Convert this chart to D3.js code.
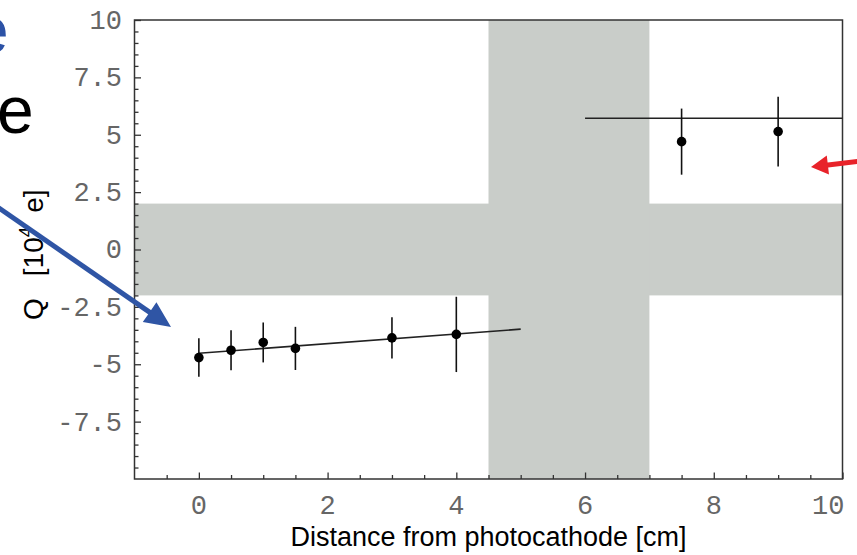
<!DOCTYPE html>
<html>
<head>
<meta charset="utf-8">
<script src="https://cdn.jsdelivr.net/npm/d3@7"></script>
<style>
  html, body { margin: 0; padding: 0; background: #fff; }
  svg { display: block; }
</style>
</head>
<body>
<svg id="chart" width="857" height="555"></svg>
<script>
// Charge measured near the photocathode (left group) and far side (right group)
const nearX   = [0, 0.5, 1, 1.5, 3, 4];
const nearQ   = [-4.71, -4.39, -4.05, -4.31, -3.85, -3.70];
const nearErr = [0.84, 0.87, 0.87, 0.94, 0.90, 1.64];

const farX    = [7.5, 9];
const farQ    = [4.70, 5.14];
const farErr  = [1.44, 1.52];

// Linear fit of the near group: intercept, slope, and its x extent
const nearFit = { intercept: -4.52, slope: 0.21, from: 0, to: 5 };
// Constant level of the far group and its x extent
const farFit  = { level: 5.72, from: 6, to: 10 };

// Excluded regions (shaded)
const bandQ = [-2, 2];      // horizontal band in Q
const bandX = [4.5, 7];     // vertical band in distance

const xDomain = [-1, 10];
const yDomain = [-10, 10];
const xMajor = [0, 2, 4, 6, 8, 10];
const yMajor = [-7.5, -5, -2.5, 0, 2.5, 5, 7.5, 10];
const yLabels = ["-7.5", "-5", "-2.5", "0", "2.5", "5", "7.5", "10"];

const svg = d3.select("#chart");
const plotL = 134.5, plotR = 842.5, plotT = 20, plotB = 479;

const x = d3.scaleLinear().domain(xDomain).range([plotL, plotR]);
const y = d3.scaleLinear().domain(yDomain).range([plotB, plotT]);

const shade = "#c9cdc9";
// horizontal band
svg.append("rect")
  .attr("x", x(xDomain[0])).attr("width", x(xDomain[1]) - x(xDomain[0]))
  .attr("y", y(bandQ[1])).attr("height", y(bandQ[0]) - y(bandQ[1]))
  .attr("fill", shade);
// vertical band
svg.append("rect")
  .attr("x", x(bandX[0])).attr("width", x(bandX[1]) - x(bandX[0]))
  .attr("y", y(yDomain[1])).attr("height", y(yDomain[0]) - y(yDomain[1]))
  .attr("fill", shade);

// Minor ticks every 0.5, major ticks longer
const axisColor = "#333";
const xMinor = d3.range(-0.5, 10.001, 0.5);
const yMinor = d3.range(-9.5, 10.001, 0.5);

const xAxis = d3.axisBottom(x).tickValues(xMinor).tickSize(-4).tickFormat("");
const yAxis = d3.axisLeft(y).tickValues(yMinor).tickSize(-4).tickFormat("");

const gx = svg.append("g").attr("transform", `translate(0,${plotB})`).call(xAxis);
const gy = svg.append("g").attr("transform", `translate(${plotL},0)`).call(yAxis);
[gx, gy].forEach(g => {
  g.select(".domain").remove();
  g.selectAll(".tick line").attr("stroke", axisColor).attr("stroke-width", 1.3);
});
gx.selectAll(".tick line").filter(d => xMajor.includes(d)).attr("y2", -6.5);
gy.selectAll(".tick line").filter(d => yMajor.includes(d)).attr("x2", 6.5);

// Frame
svg.append("rect")
  .attr("x", plotL).attr("y", plotT)
  .attr("width", plotR - plotL).attr("height", plotB - plotT)
  .attr("fill", "none").attr("stroke", axisColor).attr("stroke-width", 1.5);

// Tick labels
const tickFont = "'Liberation Mono', 'Courier New', monospace";
svg.append("g").selectAll("text").data(xMajor).join("text")
  .attr("x", d => d === 10 ? x(d) + 2 : x(d))
  .attr("y", 514)
  .attr("text-anchor", d => d === 10 ? "end" : "middle")
  .attr("font-family", tickFont).attr("font-size", 27)
  .attr("fill", "#666")
  .text(d => String(d));

svg.append("g").selectAll("text").data(yMajor).join("text")
  .attr("x", 122)
  .attr("y", d => y(d))
  .attr("dy", "0.33em")
  .attr("text-anchor", "end")
  .attr("font-family", tickFont).attr("font-size", 27)
  .attr("fill", "#666")
  .text((d, i) => yLabels[i]);

// Axis titles
const titleFont = "'Liberation Sans', Arial, Helvetica, sans-serif";
svg.append("text")
  .attr("x", (plotL + plotR) / 2).attr("y", 546)
  .attr("text-anchor", "middle")
  .attr("font-family", titleFont).attr("font-size", 27)
  .attr("fill", "#000")
  .text("Distance from photocathode [cm]");

const yt = svg.append("text")
  .attr("transform", `translate(43,320) rotate(-90)`)
  .attr("font-family", titleFont).attr("font-size", 28)
  .attr("fill", "#000");
yt.append("tspan").text("Q");
yt.append("tspan").attr("dx", 22).text("[10");
yt.append("tspan").attr("font-size", 19).attr("dy", -11).text("4");
yt.append("tspan").attr("dy", 11).attr("dx", 14).text("e]");

// Fit lines
const lineColor = "#222";
svg.append("line")
  .attr("x1", x(nearFit.from)).attr("y1", y(nearFit.intercept + nearFit.slope * nearFit.from))
  .attr("x2", x(nearFit.to)).attr("y2", y(nearFit.intercept + nearFit.slope * nearFit.to))
  .attr("stroke", lineColor).attr("stroke-width", 1.6);
svg.append("line")
  .attr("x1", x(farFit.from)).attr("y1", y(farFit.level))
  .attr("x2", x(farFit.to)).attr("y2", y(farFit.level))
  .attr("stroke", lineColor).attr("stroke-width", 1.6);

// Data points with error bars
const points = nearX.map((d, i) => ({ x: d, q: nearQ[i], e: nearErr[i] }))
  .concat(farX.map((d, i) => ({ x: d, q: farQ[i], e: farErr[i] })));

const gp = svg.append("g");
gp.selectAll("line").data(points).join("line")
  .attr("x1", d => x(d.x)).attr("x2", d => x(d.x))
  .attr("y1", d => y(d.q + d.e)).attr("y2", d => y(d.q - d.e))
  .attr("stroke", "#111").attr("stroke-width", 1.6);
gp.selectAll("circle").data(points).join("circle")
  .attr("cx", d => x(d.x)).attr("cy", d => y(d.q))
  .attr("r", 4.8).attr("fill", "#000");

// Slide annotations overlapping the figure
svg.append("text")
  .attr("x", -3).attr("y", 133)
  .attr("font-family", titleFont).attr("font-size", 66)
  .attr("fill", "#000").text("e");
svg.append("text")
  .attr("x", -28).attr("y", 53)
  .attr("font-family", titleFont).attr("font-size", 66)
  .attr("fill", "#2c52a6").text("e");

function arrow(x1, y1, x2, y2, color, width, headLen, headW) {
  const ang = Math.atan2(y2 - y1, x2 - x1);
  const bx = x2 - headLen * Math.cos(ang), by = y2 - headLen * Math.sin(ang);
  svg.append("line")
    .attr("x1", x1).attr("y1", y1).attr("x2", bx + 2 * Math.cos(ang)).attr("y2", by + 2 * Math.sin(ang))
    .attr("stroke", color).attr("stroke-width", width);
  const px = -Math.sin(ang), py = Math.cos(ang);
  svg.append("path")
    .attr("d", `M${x2},${y2} L${bx + px * headW / 2},${by + py * headW / 2} L${bx + px * 3},${by + py * 3} L${bx - px * 3},${by - py * 3} L${bx - px * headW / 2},${by - py * headW / 2} Z`)
    .attr("fill", color);
}
arrow(-4, 206, 171, 327, "#2f55a5", 5, 26, 24);
arrow(862, 161, 811, 167, "#e8232a", 5, 17, 19);
</script>
</body>
</html>
